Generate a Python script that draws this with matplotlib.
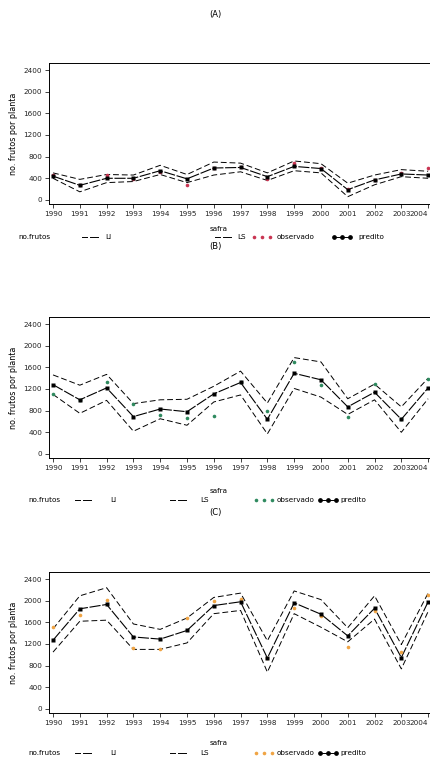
import matplotlib.pyplot as plt
from matplotlib.lines import Line2D

## Data ##
safra = list(range(1990, 2005))
anos_lbl = [str(a) for a in safra]
yticks = [0, 400, 800, 1200, 1600, 2000, 2400]

# (A)
predA = [440, 270, 400, 400, 540, 390, 590, 600, 430, 620, 580, 190, 370, 480, 460]
obsA = [470, 280, 470, 380, 510, 280, 590, 600, 380, 680, 590, 210, 370, 490, 590]
liA = [400, 150, 320, 340, 470, 320, 460, 520, 360, 540, 500, 60, 280, 430, 400]
lsA = [500, 380, 470, 460, 640, 470, 700, 680, 500, 720, 670, 310, 460, 560, 530]

# (B)
predB = [1280, 1000, 1220, 690, 830, 780, 1110, 1320, 640, 1490, 1370, 870, 1140, 640, 1220]
obsB = [1110, 1000, 1320, 920, 720, 660, 710, 1330, 790, 1700, 1280, 680, 1300, 640, 1390]
liB = [1100, 750, 990, 420, 650, 530, 960, 1090, 370, 1210, 1050, 730, 1000, 400, 1020]
lsB = [1460, 1270, 1470, 930, 1000, 1010, 1250, 1530, 940, 1780, 1700, 1020, 1290, 870, 1400]

# (C)
predC = [1270, 1850, 1930, 1330, 1290, 1450, 1910, 1980, 940, 1960, 1750, 1350, 1860, 950, 1980]
obsC = [1510, 1740, 2010, 1120, 1100, 1680, 1990, 2040, 940, 1870, 1710, 1150, 1810, 1060, 2100]
liC = [1050, 1620, 1640, 1100, 1100, 1220, 1760, 1820, 680, 1760, 1510, 1240, 1660, 740, 1800]
lsC = [1480, 2090, 2240, 1570, 1470, 1680, 2060, 2140, 1260, 2180, 2020, 1500, 2090, 1190, 2140]

H = 767.0
W = 431.0
fs = 5.2

fig = plt.figure(figsize=(4.31, 7.67), dpi=100)
fig.patch.set_facecolor("white")


def fy(px):
    return 1 - px / H


def fx(px):
    return px / W


def painel(top, bot, pred, obs, li, ls, cor):
    ax = fig.add_axes([fx(49), fy(bot), fx(430) - fx(49), fy(top) - fy(bot)])
    ax.plot(safra, li, color="k", lw=0.7, dashes=(6, 3))
    ax.plot(safra, ls, color="k", lw=0.7, dashes=(6, 3))
    ax.plot(safra, obs, "o", color=cor, ms=2.6, mec="none", zorder=3)
    ax.plot(safra, pred, color="k", lw=0.8, dashes=(10, 1.5))
    ax.plot(safra, pred, "s", color="k", ms=2.2, mec="none", zorder=4)
    ax.set_xlim(1989.85, 2004.07)
    ax.set_ylim(-75, 2530)
    ax.set_xticks(safra)
    ax.set_xticklabels(anos_lbl)
    ax.get_xticklabels()[-1].set_horizontalalignment("right")
    ax.get_xticklabels()[-1].set_x(2004.25)
    ax.set_yticks(yticks)
    ax.tick_params(direction="out", length=3, width=0.6, labelsize=fs, pad=2,
                   colors="#222222")
    for s in ax.spines.values():
        s.set_linewidth(0.7)
    ax.set_ylabel("no. frutos por planta", fontsize=5.8, labelpad=4)
    return ax


def legenda(y, pos, cor):
    # pos: no.frutos, LI linha, LI texto, LS linha, LS texto, obs pontos, obs texto, pred pontos, pred texto
    yy = fy(y)
    fig.text(fx(pos[0]), yy, "no.frutos", fontsize=fs, va="center")
    for x0, xt, lab in [(pos[1], pos[2], "LI"), (pos[3], pos[4], "LS")]:
        fig.add_artist(Line2D([fx(x0), fx(x0 + 5)], [yy, yy], color="k", lw=0.7))
        fig.add_artist(Line2D([fx(x0 + 8), fx(x0 + 16)], [yy, yy], color="k", lw=0.7))
        fig.text(fx(xt), yy, lab, fontsize=fs, va="center")
    x0 = pos[5]
    fig.add_artist(Line2D([fx(x0), fx(x0 + 8), fx(x0 + 16)], [yy] * 3, ls="none",
                          marker="o", ms=2.6, color=cor, mec="none"))
    fig.text(fx(pos[6]), yy, "observado", fontsize=fs, va="center")
    x0 = pos[7]
    fig.add_artist(Line2D([fx(x0), fx(x0 + 8), fx(x0 + 16)], [yy] * 3, color="k",
                          lw=0.7, marker="o", ms=2.4))
    fig.text(fx(pos[8]), yy, "predito", fontsize=fs, va="center")


fig.text(fx(215), fy(14), "(A)", fontsize=6, ha="center", va="center")
painel(63, 204, predA, obsA, liA, lsA, "#c93552")
fig.text(fx(219), fy(229), "safra", fontsize=fs, ha="center", va="center")
legenda(237, [18, 82, 105, 215, 237, 254, 277, 334, 358], "#c93552")

fig.text(fx(215), fy(246), "(B)", fontsize=6, ha="center", va="center")
painel(317, 458, predB, obsB, liB, lsB, "#2f8a5f")
fig.text(fx(219), fy(491), "safra", fontsize=fs, ha="center", va="center")
legenda(500, [28, 75, 110, 170, 200, 256, 277, 320, 340], "#2f8a5f")

fig.text(fx(215), fy(512), "(C)", fontsize=6, ha="center", va="center")
painel(572, 713, predC, obsC, liC, lsC, "#f0a444")
fig.text(fx(219), fy(743), "safra", fontsize=fs, ha="center", va="center")
legenda(753, [28, 75, 110, 170, 200, 256, 277, 320, 340], "#f0a444")

fig.savefig("out.png", dpi=100)
